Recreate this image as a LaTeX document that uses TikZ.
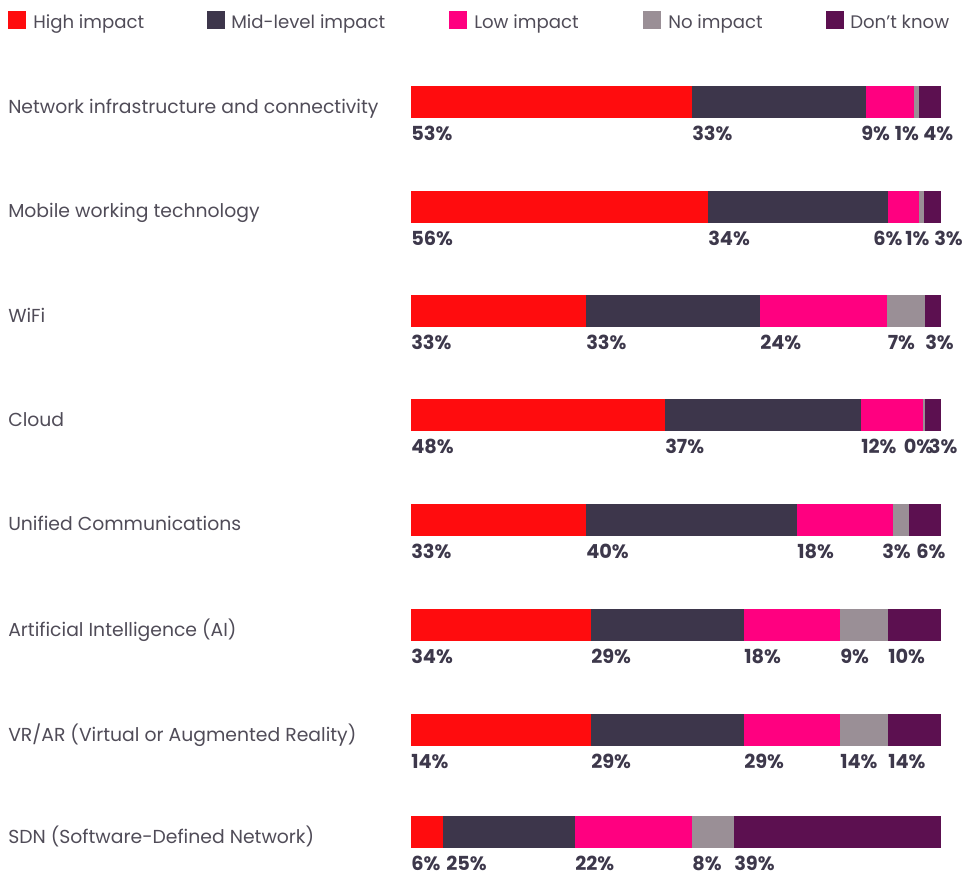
\documentclass[tikz,border=0pt]{standalone}
\usepackage{fontspec}
\setmainfont{Poppins}
\definecolor{cHigh}{RGB}{255,12,14}
\definecolor{cMid}{RGB}{61,54,75}
\definecolor{cLow}{RGB}{255,0,128}
\definecolor{cNo}{RGB}{154,143,150}
\definecolor{cDk}{RGB}{92,16,80}
\definecolor{pcttext}{RGB}{61,56,75}
\definecolor{labtext}{RGB}{80,76,88}
\newcommand\chartrow[6]{%
  \fill[cHigh] (411,#1) rectangle (#2,#1+32);
  \fill[cMid] (#2,#1) rectangle (#3,#1+32);
  \fill[cLow] (#3,#1) rectangle (#4,#1+32);
  \fill[cNo] (#4,#1) rectangle (#5,#1+32);
  \fill[cDk] (#5,#1) rectangle (941,#1+32);
  \node[lab] at (8,#1+27) {#6};
}
\newcommand\pctrow[6]{%
  \foreach \px/\pt in {#2,#3,#4,#5,#6} {\node[pct] at (\px,#1+54.5) {\pt\%};}
}
\tikzset{
  pct/.style={anchor=base west, inner sep=0pt, font=\fontsize{14.5}{16}\selectfont\bfseries, text=pcttext},
  lab/.style={anchor=base west, inner sep=0pt, font=\fontsize{14.1}{16}\selectfont, text=labtext},
  leg/.style={anchor=base west, inner sep=0pt, font=\fontsize{13.6}{16}\selectfont, text=labtext},
  legsq/.style={minimum size=13.5pt, inner sep=0pt, anchor=north west},
}
\begin{document}
\begin{tikzpicture}[x=0.75pt,y=-0.75pt]
\useasboundingbox (0,0) rectangle (968,876);
% legend
\node[legsq, fill=cHigh] (l1) at (8,11) {};
\node[leg] (t1) at (33,28) {High impact};
\node[legsq, fill=cMid] (l2) at (207,11) {};
\node[leg] (t2) at (231,28) {Mid-level impact};
\node[legsq, fill=cLow] (l3) at (449,11) {};
\node[leg] (t3) at (474,28) {Low impact};
\node[legsq, fill=cNo] (l4) at (643,11) {};
\node[leg] (t4) at (668,28) {No impact};
\node[legsq, fill=cDk] (l5) at (826,11) {};
\node[leg] (t5) at (850,28) {Don’t know};
% bars
\chartrow{86}{692}{866}{913.6}{919}{Network infrastructure and connectivity}
\chartrow{190.5}{708}{888}{919}{924}{Mobile working technology}
\chartrow{295}{586}{760}{887}{925}{WiFi}
\chartrow{399}{664.6}{861}{922.5}{925}{Cloud}
\chartrow{503.6}{586}{797}{893}{909}{Unified Communications}
\chartrow{609}{591}{744}{840}{888}{Artificial Intelligence (AI)}
\chartrow{714}{591}{744}{840}{888}{VR/AR (Virtual or Augmented Reality)}
\chartrow{816}{443}{575}{692}{734}{SDN (Software-Defined Network)}
% percentages
\pctrow{86}{411/53}{692/33}{861/9}{894.6/1}{923/4}
\pctrow{190.5}{411/56}{708/34}{873/6}{905/1}{934/3}
\pctrow{295}{411/33}{586/33}{760/24}{887.5/7}{925/3}
\pctrow{399}{411/48}{665/37}{861/12}{903.6/0}{928.6/3}
\pctrow{503.6}{411/33}{586/40}{797/18}{882/3}{916/6}
\pctrow{609}{411/34}{591/29}{744/18}{840/9}{888/10}
\pctrow{714}{411/14}{591/29}{744/29}{840/14}{888/14}
\pctrow{816}{411/6}{446/25}{575/22}{692/8}{734/39}
\end{tikzpicture}
\end{document}
